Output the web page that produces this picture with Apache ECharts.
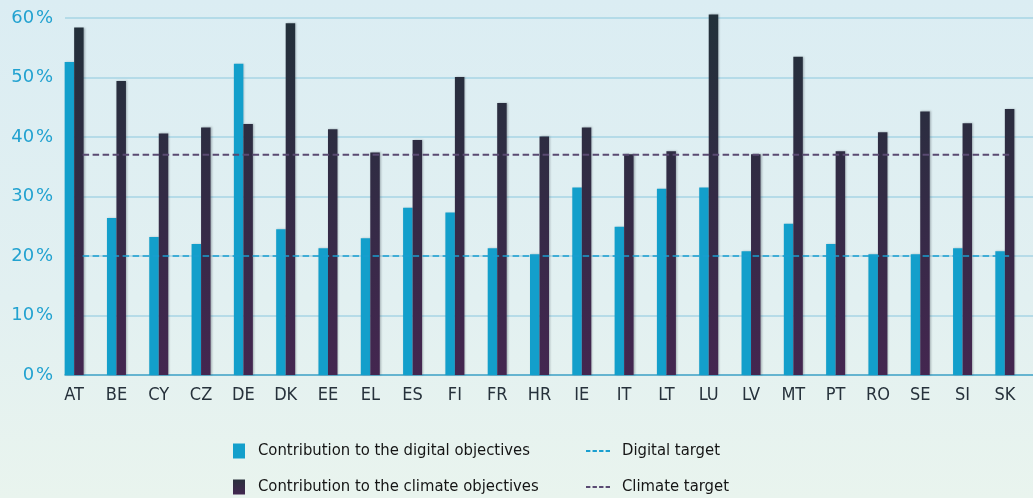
<!DOCTYPE html>
<html>
<head>
<meta charset="utf-8">
<script src="https://cdn.jsdelivr.net/npm/echarts@6/dist/echarts.min.js"></script>
<style>
  html, body { margin: 0; padding: 0; }
  body { background: linear-gradient(180deg, #dbedf3 0%, #e2f0f1 60%, #e9f4ee 100%); }
  #chart { width: 1033px; height: 498px; }
</style>
</head>
<body>
<div id="chart"></div>
<script>
// Member states
const countries = ['AT', 'BE', 'CY', 'CZ', 'DE', 'DK', 'EE', 'EL', 'ES', 'FI', 'FR', 'HR',
                   'IE', 'IT', 'LT', 'LU', 'LV', 'MT', 'PT', 'RO', 'SE', 'SI', 'SK'];

// Share of each plan contributing to the digital objectives (%)
const digitalShare = [52.6, 26.4, 23.2, 22.0, 52.3, 24.5, 21.3, 23.0, 28.1, 27.3, 21.3, 20.3,
                      31.5, 24.9, 31.3, 31.5, 20.8, 25.4, 22.0, 20.3, 20.3, 21.3, 20.8];

// Share of each plan contributing to the climate objectives (%)
const climateShare = [58.4, 49.4, 40.6, 41.6, 42.2, 59.1, 41.3, 37.4, 39.5, 50.1, 45.7, 40.1,
                      41.6, 37.1, 37.6, 60.6, 37.1, 53.5, 37.6, 40.8, 44.3, 42.3, 44.7];

// Targets (%)
const digitalTarget = 20;
const climateTarget = 37;

// Value axis ticks (%)
const yTicks = [0, 10, 20, 30, 40, 50, 60];

const digitalName = 'Contribution to the digital objectives';
const climateName = 'Contribution to the climate objectives';
const digitalTargetName = 'Digital target';
const climateTargetName = 'Climate target';

const FONT = '"Liberation Sans Narrow", "DejaVu Sans Condensed", "Liberation Sans", sans-serif';
const yMin = yTicks[0], yMax = yTicks[yTicks.length - 1], yStep = yTicks[1] - yTicks[0];

const plotTop = 18, plotBottom = 123;

const DIGITAL_BLUE = '#139fcb';
const DIGITAL_LINE = '#1a9fd0';
const CLIMATE_LINE = '#5a4a72';

// Four short dashes, used as the legend key of the target lines
const dashIcon = 'path://M0,0h4.4v2h-4.4z M6.6,0h4.4v2h-4.4z M13.2,0h4.4v2h-4.4z M19.8,0h4.4v2h-4.4z';

const chart = echarts.init(document.getElementById('chart'), null, { renderer: 'canvas' });

// Climate bars share one vertical gradient over the plot height
const climateFill = new echarts.graphic.LinearGradient(0, plotTop, 0, 498 - plotBottom, [
  { offset: 0, color: '#22303a' },
  { offset: 1, color: '#442650' }
], true);
const climateIcon = new echarts.graphic.LinearGradient(0, 0, 0, 1, [
  { offset: 0, color: '#2a303d' },
  { offset: 1, color: '#432750' }
]);

const legendText = { fontFamily: FONT, fontSize: 16.5, color: '#151515', lineHeight: 20 };

chart.setOption({
  backgroundColor: 'transparent',
  animation: false,
  grid: [
    { left: 65, right: 0, top: plotTop, bottom: plotBottom },          // gridlines
    { left: 53, right: 7, top: plotTop, bottom: plotBottom },          // bars
    { left: 61.5, width: 973, top: plotTop, bottom: plotBottom }       // target lines
  ],
  xAxis: [
    {
      gridIndex: 0, type: 'value', min: 0, max: 1,
      axisLine: { show: true, lineStyle: { color: '#49a6c9', width: 1.5 } },
      axisTick: { show: false }, axisLabel: { show: false }, splitLine: { show: false }
    },
    {
      gridIndex: 1, type: 'category', data: countries,
      axisLine: { show: false }, axisTick: { show: false },
      axisLabel: { fontFamily: FONT, fontSize: 18, color: '#26313b', margin: 11 }
    },
    { gridIndex: 2, type: 'category', data: countries, show: false }
  ],
  yAxis: [
    {
      gridIndex: 0, type: 'value', min: yMin, max: yMax, interval: yStep,
      axisLine: { show: false }, axisTick: { show: false },
      axisLabel: {
        formatter: v => v + '\u200a%',
        fontFamily: '"DejaVu Sans", sans-serif', fontSize: 18, color: '#22a2d0', margin: 12
      },
      splitLine: { lineStyle: { color: '#a7d5e4', width: 1.5 } }
    },
    { gridIndex: 1, type: 'value', min: yMin, max: yMax, show: false },
    { gridIndex: 2, type: 'value', min: yMin, max: yMax, show: false }
  ],
  legend: [
    {
      data: [
        { name: digitalName, itemStyle: { color: DIGITAL_BLUE } },
        { name: climateName, itemStyle: { color: climateIcon } }
      ],
      orient: 'vertical', left: 233, top: 441, padding: 0,
      itemWidth: 12, itemHeight: 15, itemGap: 16, icon: 'rect',
      selectedMode: false,
      textStyle: Object.assign({ padding: [0, 0, 0, 8] }, legendText)
    },
    {
      data: [
        { name: digitalTargetName, icon: dashIcon, itemStyle: { color: DIGITAL_LINE } },
        { name: climateTargetName, icon: dashIcon, itemStyle: { color: CLIMATE_LINE } }
      ],
      orient: 'vertical', left: 586, top: 441, padding: 0,
      itemWidth: 24, itemHeight: 2, itemGap: 16,
      selectedMode: false,
      textStyle: Object.assign({ padding: [0, 0, 0, 7] }, legendText)
    }
  ],
  series: [
    {
      name: digitalName, type: 'bar', xAxisIndex: 1, yAxisIndex: 1,
      data: digitalShare, barWidth: 9.5, barGap: '0%', clip: false,
      itemStyle: { color: DIGITAL_BLUE, shadowBlur: 2, shadowColor: 'rgba(30,60,80,0.25)', shadowOffsetX: 1 }
    },
    {
      name: climateName, type: 'bar', xAxisIndex: 1, yAxisIndex: 1,
      data: climateShare, barWidth: 9.5, barGap: '0%', clip: false,
      itemStyle: { color: climateFill, shadowBlur: 2, shadowColor: 'rgba(30,40,50,0.3)', shadowOffsetX: 1 }
    },
    {
      name: digitalTargetName, type: 'line', xAxisIndex: 2, yAxisIndex: 2,
      data: countries.map(() => digitalTarget), symbol: 'none', silent: true,
      itemStyle: { color: DIGITAL_LINE },
      lineStyle: { color: DIGITAL_LINE, width: 1.6, type: [6.5, 3.5] }
    },
    {
      name: climateTargetName, type: 'line', xAxisIndex: 2, yAxisIndex: 2,
      data: countries.map(() => climateTarget), symbol: 'none', silent: true,
      itemStyle: { color: CLIMATE_LINE },
      lineStyle: { color: CLIMATE_LINE, width: 2, type: [6.5, 3.5] }
    }
  ]
});
</script>
</body>
</html>
